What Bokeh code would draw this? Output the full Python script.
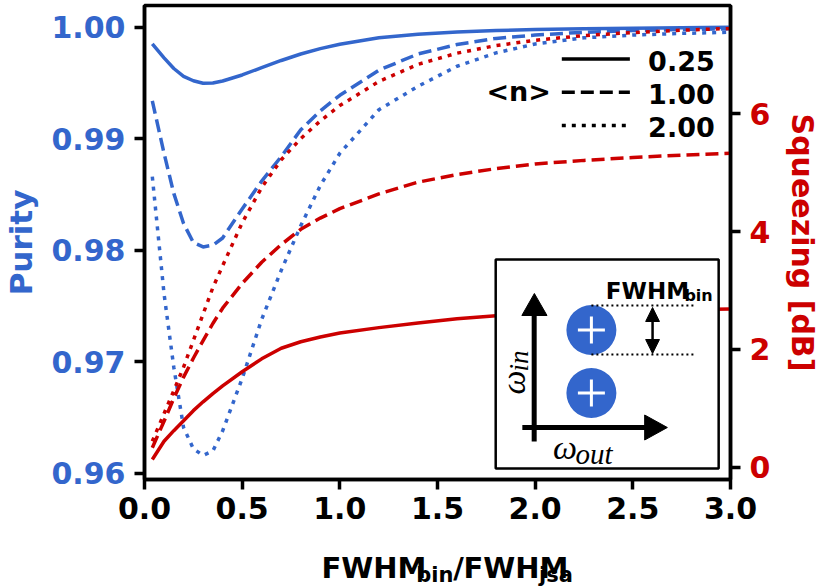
from math import pi
from bokeh.plotting import figure
from bokeh.layouts import column
from bokeh.models import Range1d, LinearAxis, FixedTicker, PrintfTickFormatter, Label, ColumnDataSource
from bokeh.embed import file_html
from bokeh.resources import INLINE

# ---------------- data ----------------
ratio = [0.04, 0.1, 0.15, 0.2, 0.25, 0.3, 0.35, 0.4, 0.5, 0.6, 0.7, 0.8, 0.9, 1.0,
         1.2, 1.4, 1.6, 1.8, 2.0, 2.25, 2.5, 2.75, 3.0]
purity_025 = [0.9985, 0.99725, 0.9963, 0.99560, 0.99520, 0.99498, 0.99500, 0.99518, 0.99572,
              0.99638, 0.99702, 0.99760, 0.99808, 0.99848, 0.99905, 0.99937, 0.99957, 0.99970,
              0.99979, 0.99986, 0.99992, 0.99996, 0.99999]
purity_100 = [0.9934, 0.9887, 0.9851, 0.9824, 0.9807, 0.98030, 0.98045, 0.98110, 0.98370,
              0.98620, 0.98840, 0.99080, 0.99250, 0.99390, 0.99615, 0.99760, 0.99845, 0.99900,
              0.99930, 0.99955, 0.99970, 0.99980, 0.99986]
purity_200 = [0.9866, 0.9761, 0.9695, 0.9641, 0.9622, 0.9616, 0.9620, 0.9638, 0.9685,
              0.9738, 0.9782, 0.9822, 0.9858, 0.9887, 0.9926, 0.9947, 0.9965, 0.9977,
              0.9985, 0.99905, 0.99930, 0.99945, 0.99955]
squeeze_025 = [0.13, 0.44, 0.62, 0.79, 0.96, 1.11, 1.25, 1.38, 1.62, 1.84, 2.02, 2.13, 2.21,
               2.28, 2.37, 2.45, 2.52, 2.57, 2.61, 2.64, 2.66, 2.675, 2.685]
squeeze_100 = [0.33, 0.78, 1.17, 1.53, 1.85, 2.15, 2.44, 2.70, 3.12, 3.48, 3.78, 4.04, 4.23,
               4.39, 4.64, 4.84, 4.97, 5.07, 5.15, 5.21, 5.26, 5.30, 5.33]
squeeze_200 = [0.44, 0.91, 1.30, 1.70, 2.15, 2.60, 3.05, 3.42, 4.15, 4.75, 5.22, 5.58, 5.88,
               6.14, 6.55, 6.84, 7.03, 7.16, 7.25, 7.33, 7.38, 7.42, 7.45]
n_labels = ["0.25", "1.00", "2.00"]
purity_ticks = [0.96, 0.97, 0.98, 0.99, 1.00]
squeeze_ticks = [0, 2, 4, 6]
x_ticks = [0.0, 0.5, 1.0, 1.5, 2.0, 2.5, 3.0]

BLUE = "#3366CC"
RED = "#CC0000"
FONT = "DejaVu Sans"
SERIF = "Liberation Serif"
LW = 3.5
DASHES = ["solid", "13 6", "4 6"]

p = figure(width=823, height=534, output_backend="svg", toolbar_location=None, title=None,
           x_range=Range1d(0, 3), y_range=Range1d(0.95944, 1.00195),
           min_border_left=140, min_border_right=89, min_border_top=5, min_border_bottom=55)
p.extra_y_ranges = {"sq": Range1d(-0.209, 7.84), "py": Range1d(479, 5)}
p.extra_x_ranges = {"px": Range1d(140, 734)}

p.xgrid.grid_line_color = None
p.ygrid.grid_line_color = None
p.outline_line_color = "black"
p.outline_line_width = LW
p.background_fill_color = "white"
p.border_fill_color = "white"

def style_axis(ax, color):
    ax.axis_line_width = LW
    ax.axis_line_color = "black"
    ax.major_tick_line_width = LW
    ax.major_tick_line_color = "black"
    ax.major_tick_out = 10
    ax.major_tick_in = 0
    ax.minor_tick_line_color = None
    ax.major_label_text_font = FONT
    ax.major_label_text_font_style = "bold"
    ax.major_label_text_font_size = "30px"
    ax.major_label_text_color = color
    ax.major_label_standoff = 9
    ax.axis_label_text_font = FONT
    ax.axis_label_text_font_style = "bold"
    ax.axis_label_text_color = color

style_axis(p.xaxis[0], "black")
p.xaxis[0].ticker = FixedTicker(ticks=x_ticks)
p.xaxis[0].formatter = PrintfTickFormatter(format="%.1f")
p.xaxis[0].major_label_standoff = 7
style_axis(p.yaxis[0], BLUE)
p.yaxis[0].ticker = FixedTicker(ticks=purity_ticks)
p.yaxis[0].formatter = PrintfTickFormatter(format="%.2f")
p.yaxis[0].axis_label = "Purity"
p.yaxis[0].axis_label_text_font_size = "31px"
p.yaxis[0].axis_label_standoff = 9

right = LinearAxis(y_range_name="sq", ticker=FixedTicker(ticks=squeeze_ticks),
                   formatter=PrintfTickFormatter(format="%d"))
style_axis(right, RED)
right.axis_label = "Squeezing [dB]"
right.axis_label_text_font_size = "30px"
right.axis_label_standoff = 12
p.add_layout(right, "right")

# ---------------- curves ----------------
src = ColumnDataSource(dict(x=ratio, p025=purity_025, p100=purity_100, p200=purity_200,
                            s025=squeeze_025, s100=squeeze_100, s200=squeeze_200))
for col, dash in zip(["p025", "p100", "p200"], DASHES):
    p.line("x", col, source=src, line_color=BLUE, line_width=LW, line_dash=dash)
for col, dash in zip(["s025", "s100", "s200"], DASHES):
    p.line("x", col, source=src, line_color=RED, line_width=LW, line_dash=dash, y_range_name="sq")

PX = dict(x_range_name="px", y_range_name="py")

def label(x, y, text, size, color="black", align="left", baseline="alphabetic",
          font=FONT, style="bold", angle=0):
    p.add_layout(Label(x=x, y=y, text=text, text_font=font, text_font_style=style,
                       text_font_size=size, text_color=color, text_align=align,
                       text_baseline=baseline, angle=angle, **PX))

# ---------------- legend ----------------
for yy, dash, lab in zip([58.5, 91.7, 125], DASHES, n_labels):
    p.line([563, 632], [yy, yy], line_color="black", line_width=LW, line_dash=dash, **PX)
    label(718, yy + 1.5, lab, "27px", align="right", baseline="middle")
label(552, 91, "<n>", "27px", align="right", baseline="middle")

# ---------------- inset ----------------
p.quad(left=[496], right=[722], top=[259], bottom=[468], fill_color="white",
       line_color="black", line_width=2.5, **PX)
p.segment(x0=[535], y0=[441], x1=[535], y1=[312], line_color="black", line_width=5, **PX)
p.patch([522.5, 548, 535.2], [315, 315, 293], fill_color="black", line_color="black", **PX)
p.segment(x0=[523], y0=[427], x1=[650], y1=[427], line_color="black", line_width=5, **PX)
p.patch([647, 647, 670], [414.5, 439.5, 427], fill_color="black", line_color="black", **PX)
p.scatter([593, 593], [329.5, 392.5], size=50, fill_color=BLUE, line_color=None, **PX)
p.scatter([593, 593], [329.5, 392.5], marker="cross", size=27, line_color="white",
          line_width=3, **PX)
p.segment(x0=[593, 593], y0=[305, 354], x1=[698, 698], y1=[305, 354], line_color="black",
          line_width=2, line_dash="2 3", **PX)
p.segment(x0=[655], y0=[318], x1=[655], y1=[342], line_color="black", line_width=2.5, **PX)
p.patch([648, 662, 655], [321, 321, 307], fill_color="black", line_color="black", **PX)
p.patch([648, 662, 655], [339, 339, 353], fill_color="black", line_color="black", **PX)
label(692, 290, "FWHM", "23px", align="right")
label(716, 295, "bin", "16px", align="right")
label(514, 394, "ω", "34px", font=SERIF, style="italic", angle=pi / 2)
label(520, 371, "in", "27px", font=SERIF, style="italic", angle=pi / 2)
label(554, 447, "ω", "34px", font=SERIF, style="italic")
label(577, 453, "out", "29px", font=SERIF, style="italic")

# ---------------- x-axis title (own strip below the plot) ----------------
q = figure(width=823, height=54, output_backend="svg", toolbar_location=None, title=None,
           x_range=Range1d(0, 823), y_range=Range1d(54, 0),
           x_axis_location=None, y_axis_location=None,
           min_border=0, outline_line_color=None)
q.grid.visible = False
q.border_fill_color = "white"
x0 = 441
def qlabel(x, y, t, size, align):
    q.add_layout(Label(x=x, y=y, text=t, text_font=FONT, text_font_style="bold",
                       text_font_size=size, text_align=align, text_baseline="middle",
                       text_color="black"))
qlabel(x0, 33, "/", "29px", "center")
qlabel(x0 - 7, 40, "bin", "21px", "right")
qlabel(x0 - 45, 33, "FWHM", "29px", "right")
qlabel(x0 + 7, 33, "FWHM", "29px", "left")
qlabel(x0 + 113, 40, "jsa", "21px", "left")

layout = column(p, q, spacing=0)
open("out.html", "w").write(file_html(layout, INLINE))
